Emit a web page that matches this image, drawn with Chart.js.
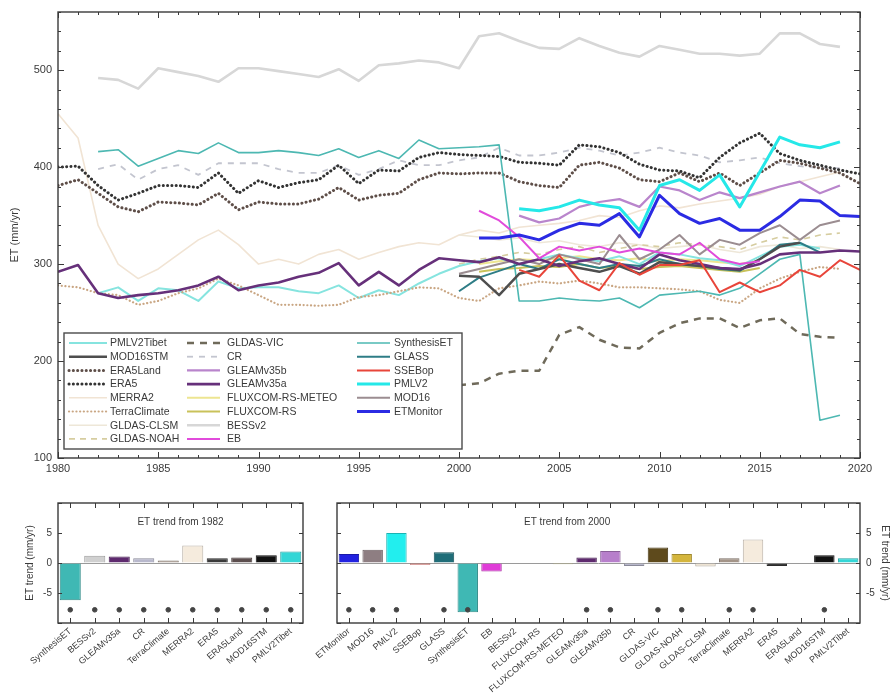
<!DOCTYPE html>
<html>
<head>
<meta charset="utf-8">
<script src="https://cdn.jsdelivr.net/npm/chart.js@4.4.0/dist/chart.umd.min.js"></script>
<style>
  html, body { margin: 0; padding: 0; background: #fff; }
  #wrap { position: relative; width: 893px; height: 698px; background: #fff; }
  canvas { position: absolute; }
</style>
</head>
<body>
<div id="wrap">
  <canvas id="mainChart" width="893" height="480" style="left:0;top:0"></canvas>
  <canvas id="trend1982" width="320" height="208" style="left:0;top:490px"></canvas>
  <canvas id="trend2000" width="597" height="208" style="left:296px;top:490px"></canvas>
</div>
<script>
// ---------- annual ET series (mm/yr), each list starts at seriesStart[name] ----------
const seriesStart = {
  'BESSv2': 1982, 'SynthesisET': 1982, 'PMLV2Tibet': 1982, 'ERA5': 1980, 'ERA5Land': 1980,
  'CR': 1982, 'TerraClimate': 1980, 'GLEAMv35a': 1980, 'GLEAMv35b': 2003, 'PMLV2': 2003,
  'ETMonitor': 2001, 'EB': 2001, 'SSEBop': 2003, 'GLASS': 2000, 'MOD16STM': 2000,
  'MOD16': 2000, 'FLUXCOM-RS': 2001, 'FLUXCOM-RS-METEO': 2001, 'GLDAS-NOAH': 2000,
  'GLDAS-CLSM': 2000, 'MERRA2': 1980, 'GLDAS-VIC': 2000
};

const bessv2 = [492, 490, 481, 502, 498, 494, 488, 502, 502, 499, 496, 493, 501, 489, 505, 507, 510, 508, 502, 535,
                538, 530, 523, 522, 533, 525, 518, 514, 525, 521, 517, 517, 515, 517, 538, 538, 527, 524];
const synthesisET = [416, 418, 401, 409, 417, 414, 425, 415, 415, 417, 415, 412, 419, 410, 417, 409, 428, 419, 420, 421,
                     423, 262, 262, 265, 263, 262, 265, 255, 268, 270, 272, 268, 275, 290, 305, 310, 139, 144];
const pmlv2Tibet = [270, 276, 262, 275, 273, 262, 282, 275, 276, 276, 272, 270, 278, 265, 273, 268, 280, 290, 298, 303,
                    306, 300, 305, 310, 306, 303, 308, 300, 312, 310, 306, 304, 298, 308, 318, 320, 316];
const era5 = [400, 401, 381, 366, 373, 381, 381, 379, 394, 373, 386, 379, 384, 387, 402, 383, 397, 396, 410, 415,
              413, 412, 411, 405, 404, 402, 423, 421, 415, 403, 397, 396, 389, 410, 425, 435, 414, 407, 402, 397, 393];
const era5Land = [381, 387, 373, 359, 354, 364, 363, 361, 373, 356, 364, 362, 362, 367, 379, 366, 371, 373, 387, 394,
                  393, 394, 394, 385, 381, 379, 402, 405, 399, 387, 385, 394, 385, 394, 381, 394, 407, 404, 399, 394, 383];
const cr = [398, 403, 387, 398, 402, 392, 404, 404, 404, 398, 394, 394, 402, 392, 398, 407, 402, 402, 407, 410,
            420, 412, 412, 415, 420, 417, 412, 415, 420, 415, 412, 405, 407, 410, 404, 401, 399, 399];
const terraClimate = [278, 276, 270, 268, 258, 262, 270, 275, 285, 278, 268, 258, 258, 257, 258, 266, 268, 272, 276, 275,
                      265, 262, 275, 278, 282, 280, 283, 280, 276, 276, 275, 274, 272, 263, 260, 275, 285, 292, 297, 295];
const gleamv35a = [292, 299, 270, 265, 268, 270, 273, 278, 287, 273, 278, 281, 287, 291, 301, 278, 292, 278, 294, 306,
                   304, 302, 307, 300, 305, 298, 303, 306, 300, 295, 310, 304, 300, 296, 295, 300, 310, 312, 312, 314, 313];
const gleamv35b = [350, 343, 347, 359, 364, 367, 359, 380, 376, 366, 374, 368, 374, 380, 385, 373, 381];
const pmlv2 = [357, 355, 359, 366, 361, 358, 335, 381, 387, 376, 392, 359, 395, 431, 423, 420, 426];
const etMonitor = [327, 327, 330, 325, 335, 342, 340, 352, 328, 371, 352, 342, 347, 335, 335, 349, 366, 365, 350, 349];
const eb = [355, 345, 328, 306, 318, 314, 318, 312, 316, 312, 310, 322, 305, 300, 303];
const ssebop = [294, 287, 309, 283, 273, 301, 289, 299, 299, 304, 271, 281, 271, 278, 294, 287, 304, 294];
const glass = [272, 286, 293, 300, 295, 305, 300, 296, 300, 298, 305, 300, 298, 295, 293, 305, 320, 322, 312];
const mod16stm = [288, 287, 268, 290, 295, 300, 296, 292, 298, 290, 302, 300, 298, 296, 294, 305, 318, 322];
const mod16 = [290, 295, 300, 305, 300, 310, 305, 300, 330, 305, 315, 330, 310, 325, 320, 332, 340, 325, 340, 345];
const fluxcomRS = [292, 295, 296, 298, 297, 300, 296, 298, 295, 297, 298, 296, 294, 292, 296];
const fluxcomRSMeteo = [300, 303, 305, 304, 306, 308, 305, 304, 306, 303, 305, 304, 302, 300, 304];
const gldasNoah = [300, 305, 308, 312, 310, 315, 318, 312, 316, 320, 318, 322, 320, 318, 315, 322, 328, 325, 330, 332];
const gldasClsm = [330, 328, 325, 327, 322, 324, 320, 318, 322, 320, 316, 318, 320, 315, 312, 318, 320, 316, 318, 315];
const merra2 = [455, 430, 340, 300, 285, 295, 310, 325, 335, 320, 300, 305, 300, 310, 315, 305, 312, 318, 322, 320,
                330, 335, 332, 338, 340, 342, 345, 350, 348, 355, 360, 358, 362, 365, 368, 372, 380, 385, 390, 395];
const gldasVic = [175, 177, 187, 190, 190, 227, 235, 222, 214, 213, 229, 239, 244, 244, 234, 242, 244, 228, 225, 224];

// ---------- trend panels (mm/yr per year) ----------
const trend1982Names = ['SynthesisET', 'BESSv2', 'GLEAMv35a', 'CR', 'TerraClimate', 'MERRA2', 'ERA5', 'ERA5Land', 'MOD16STM', 'PMLV2Tibet'];
const trend1982Values = [-6.2, 1.2, 1.1, 0.8, 0.4, 2.9, 0.8, 0.9, 1.3, 1.9];
const trend1982Signif = [1, 1, 1, 1, 1, 1, 1, 1, 1, 1];

const trend2000Names = ['ETMonitor', 'MOD16', 'PMLV2', 'SSEBop', 'GLASS', 'SynthesisET', 'EB', 'BESSv2', 'FLUXCOM-RS',
  'FLUXCOM-RS-METEO', 'GLEAMv35a', 'GLEAMv35b', 'CR', 'GLDAS-VIC', 'GLDAS-NOAH', 'GLDAS-CLSM', 'TerraClimate',
  'MERRA2', 'ERA5', 'ERA5Land', 'MOD16STM', 'PMLV2Tibet'];
const trend2000Values = [1.5, 2.2, 5.0, -0.3, 1.8, -8.2, -1.4, 0.1, -0.1, -0.2, 0.9, 2.0, -0.5, 2.6, 1.5, -0.6, 0.8,
                         3.9, -0.5, 0.1, 1.3, 0.8];
const trend2000Signif = [1, 1, 1, 0, 1, 1, 0, 0, 0, 0, 1, 1, 0, 1, 1, 0, 1, 1, 0, 0, 1, 0];
const signifMarkY = -7.8;

const seriesValues = {
  'BESSv2': bessv2, 'SynthesisET': synthesisET, 'PMLV2Tibet': pmlv2Tibet, 'ERA5': era5, 'ERA5Land': era5Land,
  'CR': cr, 'TerraClimate': terraClimate, 'GLEAMv35a': gleamv35a, 'GLEAMv35b': gleamv35b, 'PMLV2': pmlv2,
  'ETMonitor': etMonitor, 'EB': eb, 'SSEBop': ssebop, 'GLASS': glass, 'MOD16STM': mod16stm, 'MOD16': mod16,
  'FLUXCOM-RS': fluxcomRS, 'FLUXCOM-RS-METEO': fluxcomRSMeteo, 'GLDAS-NOAH': gldasNoah, 'GLDAS-CLSM': gldasClsm,
  'MERRA2': merra2, 'GLDAS-VIC': gldasVic
};

// ---------- styles ----------
const lineStyles = {
  'PMLV2Tibet':       { color: '#86E4DF', width: 2 },
  'MOD16STM':         { color: '#4E4E4E', width: 2.5 },
  'ERA5Land':         { color: '#5E4E48', width: 3, dash: [0.1, 4.2] },
  'ERA5':             { color: '#333333', width: 3, dash: [0.1, 4.2] },
  'MERRA2':           { color: '#F1E4D4', width: 1.6 },
  'TerraClimate':     { color: '#C9A683', width: 2.2, dash: [0.1, 3.6] },
  'GLDAS-CLSM':       { color: '#EEE7D8', width: 1.6 },
  'GLDAS-NOAH':       { color: '#D6CDA0', width: 1.6, dash: [6, 5] },
  'GLDAS-VIC':        { color: '#6F6A5A', width: 2.5, dash: [7, 6] },
  'CR':               { color: '#C3C5CF', width: 1.8, dash: [6, 6] },
  'GLEAMv35b':        { color: '#B985CC', width: 2.2 },
  'GLEAMv35a':        { color: '#66307A', width: 2.6 },
  'FLUXCOM-RS-METEO': { color: '#EDE591', width: 2 },
  'FLUXCOM-RS':       { color: '#C9C25A', width: 2 },
  'BESSv2':           { color: '#D7D7D7', width: 2.6 },
  'EB':               { color: '#E14BDB', width: 2 },
  'SynthesisET':      { color: '#4DB8B2', width: 1.6 },
  'GLASS':            { color: '#2E7D86', width: 2 },
  'SSEBop':           { color: '#E8453A', width: 2 },
  'PMLV2':            { color: '#25E8E8', width: 3 },
  'MOD16':            { color: '#9B8D91', width: 2 },
  'ETMonitor':        { color: '#2B2BE3', width: 3 }
};

const barColors = {
  'ETMonitor': '#2222E0', 'MOD16': '#8E7E82', 'PMLV2': '#22EEEE', 'SSEBop': '#D9534A', 'GLASS': '#1F6D78',
  'SynthesisET': '#3FB8B4', 'EB': '#E03CD8', 'BESSv2': '#D0D0D0', 'FLUXCOM-RS': '#C8C050',
  'FLUXCOM-RS-METEO': '#E8E090', 'GLEAMv35a': '#5E2A6E', 'GLEAMv35b': '#B77FCB', 'CR': '#B8B8CC',
  'GLDAS-VIC': '#5E4A1C', 'GLDAS-NOAH': '#D4B53C', 'GLDAS-CLSM': '#EDE3D3', 'TerraClimate': '#A39488',
  'MERRA2': '#F5EBDD', 'ERA5': '#3A3A3A', 'ERA5Land': '#5C4E4E', 'MOD16STM': '#111111', 'PMLV2Tibet': '#33D6D6'
};

// draw order: first in list ends up on top
const drawOrder = ['ETMonitor', 'PMLV2', 'SSEBop', 'EB', 'GLEAMv35a', 'MOD16STM', 'GLASS', 'GLEAMv35b', 'MOD16',
  'SynthesisET', 'ERA5', 'ERA5Land', 'TerraClimate', 'GLDAS-VIC', 'CR', 'PMLV2Tibet', 'FLUXCOM-RS',
  'FLUXCOM-RS-METEO', 'GLDAS-NOAH', 'BESSv2', 'GLDAS-CLSM', 'MERRA2'];

const legendColumns = [
  ['PMLV2Tibet', 'MOD16STM', 'ERA5Land', 'ERA5', 'MERRA2', 'TerraClimate', 'GLDAS-CLSM', 'GLDAS-NOAH'],
  ['GLDAS-VIC', 'CR', 'GLEAMv35b', 'GLEAMv35a', 'FLUXCOM-RS-METEO', 'FLUXCOM-RS', 'BESSv2', 'EB'],
  ['SynthesisET', 'GLASS', 'SSEBop', 'PMLV2', 'MOD16', 'ETMonitor']
];

const FONT = "'Liberation Sans', Arial, sans-serif";
const TEXT = '#3a3a3a';

function toPoints(start, values) {
  return values.map((v, i) => ({ x: start + i, y: v }));
}

function darken(hex, f) {
  const n = parseInt(hex.slice(1), 16);
  const r = Math.round(((n >> 16) & 255) * f), g = Math.round(((n >> 8) & 255) * f), b = Math.round((n & 255) * f);
  return `rgb(${r},${g},${b})`;
}

// frame box + inward tick marks on all four sides (MATLAB look)
const axisFrame = {
  id: 'axisFrame',
  afterDatasetsDraw(chart, args, opts) {
    const { ctx, chartArea: a, scales } = chart;
    const xs = scales.x, ys = scales.y;
    ctx.save();
    ctx.strokeStyle = '#3a3a3a';
    ctx.lineWidth = 1;
    ctx.beginPath();
    (opts.xTicks || []).forEach(t => {
      const px = Math.round(xs.getPixelForValue(t.v)) + 0.5;
      ctx.moveTo(px, a.bottom); ctx.lineTo(px, a.bottom - t.len);
      ctx.moveTo(px, a.top); ctx.lineTo(px, a.top + t.len);
    });
    (opts.yTicks || []).forEach(t => {
      const py = Math.round(ys.getPixelForValue(t.v)) + 0.5;
      ctx.moveTo(a.left, py); ctx.lineTo(a.left + t.len, py);
      ctx.moveTo(a.right, py); ctx.lineTo(a.right - t.len, py);
    });
    ctx.stroke();
    ctx.lineWidth = 1.4;
    ctx.strokeRect(a.left, a.top, a.right - a.left, a.bottom - a.top);
    ctx.restore();
  }
};

// legend box drawn inside the plot, lower-left
const insideLegend = {
  id: 'insideLegend',
  afterDraw(chart, args, opts) {
    const { ctx } = chart;
    const byLabel = {};
    chart.data.datasets.forEach(ds => { byLabel[ds.label] = ds; });
    ctx.save();
    ctx.fillStyle = '#fff';
    ctx.fillRect(opts.x, opts.y, opts.w, opts.h);
    ctx.strokeStyle = '#4a4a4a';
    ctx.lineWidth = 1.4;
    ctx.strokeRect(opts.x, opts.y, opts.w, opts.h);
    ctx.font = `10.5px ${FONT}`;
    ctx.textBaseline = 'middle';
    opts.columns.forEach((names, c) => {
      const col = opts.cols[c];
      names.forEach((name, r) => {
        const ds = byLabel[name];
        const y = opts.y + opts.firstRow + r * opts.rowGap;
        ctx.strokeStyle = ds.borderColor;
        ctx.lineWidth = ds.borderWidth;
        ctx.lineCap = ds.borderCapStyle || 'butt';
        ctx.setLineDash(ds.borderDash || []);
        ctx.beginPath();
        ctx.moveTo(col.x0, y); ctx.lineTo(col.x1, y);
        ctx.stroke();
        ctx.setLineDash([]);
        ctx.fillStyle = TEXT;
        ctx.fillText(name, col.tx, y + 0.5);
      });
    });
    ctx.restore();
  }
};

// small title written inside a trend panel
const panelTitle = {
  id: 'panelTitle',
  afterDraw(chart, args, opts) {
    const { ctx, chartArea: a } = chart;
    ctx.save();
    ctx.font = `10px ${FONT}`;
    ctx.fillStyle = TEXT;
    ctx.textAlign = 'center';
    ctx.textBaseline = 'middle';
    ctx.fillText(opts.text, a.left + (a.right - a.left) * opts.xFrac, a.top + 19);
    ctx.restore();
  }
};

// ---------- main time-series chart ----------
const mainDatasets = drawOrder.map(name => {
  const st = lineStyles[name];
  return {
    label: name,
    data: toPoints(seriesStart[name], seriesValues[name]),
    borderColor: st.color,
    borderWidth: st.width,
    borderDash: st.dash || [],
    borderCapStyle: st.dash && st.dash[0] < 1 ? 'round' : 'butt',
    borderJoinStyle: 'round',
    pointRadius: 0,
    tension: 0,
    fill: false
  };
});

const yearTicks = [];
for (let yr = 1980; yr <= 2020; yr++) yearTicks.push({ v: yr, len: yr % 5 === 0 ? 6 : 3 });
const etTicks = [];
for (let v = 100; v <= 560; v += 20) etTicks.push({ v: v, len: v % 100 === 0 ? 6 : 3 });

new Chart(document.getElementById('mainChart'), {
  type: 'line',
  data: { datasets: mainDatasets },
  plugins: [axisFrame, insideLegend],
  options: {
    responsive: false,
    animation: false,
    layout: { padding: { top: 12, right: 33, left: 0, bottom: 0 } },
    scales: {
      x: {
        type: 'linear', min: 1980, max: 2020,
        grid: { display: false, drawTicks: false },
        border: { display: false },
        ticks: { stepSize: 5, padding: 4, color: TEXT, font: { family: FONT, size: 11 }, callback: v => String(v) },
        afterFit: s => { s.height = 22; s.paddingLeft = 0; s.paddingRight = 0; }
      },
      y: {
        min: 100, max: 560,
        grid: { display: false, drawTicks: false },
        border: { display: false },
        ticks: { stepSize: 100, includeBounds: false, padding: 6, color: TEXT, font: { family: FONT, size: 11 },
                 callback: v => (v % 100 === 0 ? String(v) : '') },
        title: { display: true, text: 'ET (mm/yr)', color: TEXT, font: { family: FONT, size: 11 }, padding: { top: 8, bottom: 0 } },
        afterFit: s => { s.width = 58; s.paddingTop = 0; s.paddingBottom = 0; }
      }
    },
    plugins: {
      legend: { display: false },
      tooltip: { enabled: false },
      axisFrame: { xTicks: yearTicks, yTicks: etTicks },
      insideLegend: {
        x: 64, y: 333, w: 398, h: 116, firstRow: 10, rowGap: 13.7,
        columns: legendColumns,
        cols: [{ x0: 69, x1: 107, tx: 110 }, { x0: 187, x1: 220, tx: 227 }, { x0: 357, x1: 390, tx: 394 }]
      }
    }
  }
});

// ---------- trend bar panels ----------
function trendChart(canvasId, names, values, signif, title, titleFrac, yPos, padding, yWidth) {
  const colors = names.map(n => barColors[n]);
  const catTicks = names.map((n, i) => ({ v: i, len: 5 }));
  const trendTicks = [-10, -5, 0, 5, 10].map(v => ({ v: v, len: 4 }));
  return new Chart(document.getElementById(canvasId), {
    type: 'bar',
    data: {
      labels: names,
      datasets: [
        {
          type: 'line', order: 0, data: signif.map(s => (s ? signifMarkY : null)),
          showLine: false, pointRadius: 2.3, pointBackgroundColor: '#444', pointBorderColor: '#444'
        },
        {
          type: 'bar', order: 1, data: values,
          backgroundColor: colors,
          borderColor: colors.map(c => darken(c, 0.75)),
          borderWidth: 1,
          barPercentage: 0.86, categoryPercentage: 1
        }
      ]
    },
    plugins: [axisFrame, panelTitle],
    options: {
      responsive: false,
      animation: false,
      layout: { padding: padding },
      scales: {
        x: {
          grid: { display: false, drawTicks: false },
          border: { display: false },
          ticks: { autoSkip: false, minRotation: 40, maxRotation: 40, padding: 3, color: TEXT,
                   font: { family: FONT, size: 9 } },
          afterFit: s => { s.height = 75; s.paddingLeft = 0; s.paddingRight = 0; }
        },
        y: {
          position: yPos, min: -10, max: 10,
          grid: { drawTicks: false, color: c => (c.tick && c.tick.value === 0 ? '#9a9a9a' : 'rgba(0,0,0,0)') },
          border: { display: false },
          ticks: { stepSize: 5, padding: 6, color: TEXT, font: { family: FONT, size: 10 },
                   callback: v => (Math.abs(v) === 10 ? '' : String(v)) },
          title: { display: true, text: 'ET trend (mm/yr)', color: TEXT, font: { family: FONT, size: 10 },
                   padding: { top: yPos === 'left' ? 24 : 2, bottom: 0 } },
          afterFit: s => { s.width = yWidth; s.paddingTop = 0; s.paddingBottom = 0; }
        }
      },
      plugins: {
        legend: { display: false },
        tooltip: { enabled: false },
        axisFrame: { xTicks: catTicks, yTicks: trendTicks },
        panelTitle: { text: title, xFrac: titleFrac }
      }
    }
  });
}

trendChart('trend1982', trend1982Names, trend1982Values, trend1982Signif, 'ET trend from 1982', 0.5,
           'left', { top: 13, right: 17, left: 0, bottom: 0 }, 58);
trendChart('trend2000', trend2000Names, trend2000Values, trend2000Signif, 'ET trend from 2000', 0.44,
           'right', { top: 13, right: 0, left: 41, bottom: 0 }, 33);
</script>
</body>
</html>
